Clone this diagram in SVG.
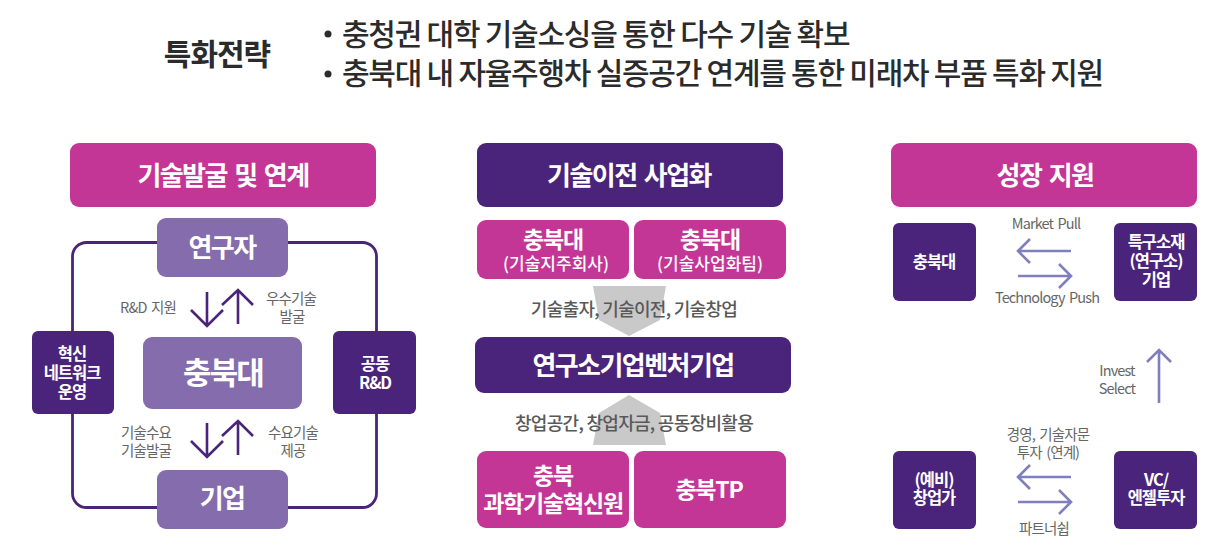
<svg xmlns="http://www.w3.org/2000/svg" width="1232" height="553" viewBox="0 0 1232 553">
<style>
text{font-family:"Noto Sans CJK KR","Noto Sans",sans-serif;text-anchor:middle}
.w{fill:#fff;font-weight:700}
.h{font-size:26px;letter-spacing:-1.56px;word-spacing:3px}
.s{font-size:16.5px;letter-spacing:-1px}
.m{font-size:23px;letter-spacing:-1.2px}
.g{fill:#666;font-size:14.5px;letter-spacing:-0.87px;word-spacing:2px}
.d{fill:#595959;font-size:18px;letter-spacing:-0.7px;font-weight:500}
.t{fill:#2b2b2b;font-size:30px;letter-spacing:-1.25px;font-weight:500;text-anchor:start}
.pk{fill:#c43696}
.dp{fill:#4a247a}
.lp{fill:#846cad}
.pa{fill:none;stroke:#4a247a;stroke-width:2.600}
.ba{fill:none;stroke:#7f7fc0;stroke-width:2.600}
.ga{fill:#c9c9c9}
</style>
<rect width="1232" height="553" fill="#fff"/>
<g id="title">
<text x="217" y="65" font-size="30" font-weight="700" fill="#2b2b2b" letter-spacing="-1">특화전략</text>
<circle cx="328" cy="34" r="3.500" fill="#2b2b2b"/>
<circle cx="328" cy="74" r="3.500" fill="#2b2b2b"/>
<text class="t" x="342" y="45">충청권 대학 기술소싱을 통한 다수 기술 확보</text>
<text class="t" x="342" y="84">충북대 내 자율주행차 실증공간 연계를 통한 미래차 부품 특화 지원</text>
</g>
<g id="connectors">
<rect class="pa" x="72.500" y="242.500" width="304" height="265" rx="14" style="stroke-width:2.800"/>
<path class="pa" d="M207 292V326M191 310L207 326L223 310M238 324V290M222 305L238 290L253 305"/>
<path class="pa" d="M207 423V457M191 441L207 457L223 441M238 455V421M222 436L238 421L253 436"/>
<polygon class="ga" points="593,286 666,286 660,320 629,336 599,320"/>
<polygon class="ga" points="629,395 660,413 666,445 593,445 599,413"/>
<path class="ba" d="M1071 251H1018M1030 239L1018 251L1030 263M1018 276H1071M1059 264L1071 276L1059 288"/>
<path class="ba" d="M1159 403V350M1147 362L1159 350L1171 362"/>
<path class="ba" d="M1071 477H1018M1030 465L1018 477L1030 489M1018 502H1071M1059 490L1071 502L1059 514"/>
</g>
<g id="h1"><rect class="pk" x="70" y="143" width="306" height="64" rx="9"/><text class="w h" x="223" y="185">기술발굴 및 연계</text></g>
<g id="n-researcher"><rect class="lp" x="157" y="218" width="131" height="59" rx="9"/><text class="w h" x="222" y="257">연구자</text></g>
<g id="n-cbnu"><rect class="lp" x="143" y="337" width="159" height="72" rx="9"/><text class="w" x="223" y="384" font-size="31" letter-spacing="-1.800">충북대</text></g>
<g id="n-company"><rect class="lp" x="157" y="470" width="131" height="59" rx="9"/><text class="w h" x="222" y="508">기업</text></g>
<g id="n-network"><rect class="dp" x="32" y="331" width="82" height="83" rx="6"/><text class="w s" x="72" y="360">혁신</text><text class="w s" x="72" y="379">네트워크</text><text class="w s" x="72" y="398">운영</text></g>
<g id="n-rd"><rect class="dp" x="333" y="331" width="83" height="83" rx="6"/><text class="w s" x="375" y="370">공동</text><text class="w s" x="375" y="389">R&amp;D</text></g>
<g id="left-labels">
<text class="g" x="148" y="313">R&amp;D 지원</text>
<text class="g" x="291" y="304">우수기술</text><text class="g" x="292" y="322">발굴</text>
<text class="g" x="146" y="438">기술수요</text><text class="g" x="146" y="456">기술발굴</text>
<text class="g" x="293" y="438">수요기술</text><text class="g" x="293" y="456">제공</text>
</g>
<g id="h2"><rect class="dp" x="477" y="143" width="306" height="64" rx="9"/><text class="w h" x="629" y="185">기술이전 사업화</text></g>
<g id="n-holding"><rect class="pk" x="477" y="220" width="152" height="59" rx="9"/><text class="w m" x="553" y="248">충북대</text><text class="w" x="556" y="270" font-size="17" style="font-weight:500">(기술지주회사)</text></g>
<g id="n-team"><rect class="pk" x="634" y="220" width="152" height="59" rx="9"/><text class="w m" x="710" y="248">충북대</text><text class="w" x="710" y="270" font-size="17" style="font-weight:500">(기술사업화팀)</text></g>
<g id="n-venture"><rect class="dp" x="475" y="337" width="316" height="56" rx="9"/><text class="w h" x="633" y="375">연구소기업벤처기업</text></g>
<g id="n-innovation"><rect class="pk" x="477" y="451" width="152" height="77" rx="9"/><text class="w m" x="553" y="484">충북</text><text class="w m" x="553" y="512">과학기술혁신원</text></g>
<g id="n-tp"><rect class="pk" x="634" y="451" width="152" height="77" rx="9"/><text class="w m" x="709" y="498">충북TP</text></g>
<g id="mid-labels">
<text class="d" x="634" y="316">기술출자, 기술이전, 기술창업</text>
<text class="d" x="634" y="430">창업공간, 창업자금, 공동장비활용</text>
</g>
<g id="h3"><rect class="pk" x="891" y="143" width="306" height="64" rx="9"/><text class="w h" x="1045" y="185">성장 지원</text></g>
<g id="n-cbnu2"><rect class="dp" x="893" y="223" width="83" height="78" rx="6"/><text class="w s" x="934" y="268">충북대</text></g>
<g id="n-special"><rect class="dp" x="1114" y="223" width="83" height="78" rx="6"/><text class="w s" x="1156" y="248">특구소재</text><text class="w s" x="1156" y="267">(연구소)</text><text class="w s" x="1156" y="286">기업</text></g>
<g id="n-founder"><rect class="dp" x="893" y="451" width="83" height="78" rx="6"/><text class="w s" x="934" y="486">(예비)</text><text class="w s" x="934" y="504">창업가</text></g>
<g id="n-vc"><rect class="dp" x="1114" y="451" width="83" height="78" rx="6"/><text class="w s" x="1156" y="486">VC/</text><text class="w s" x="1156" y="504">엔젤투자</text></g>
<g id="right-labels">
<text class="g" x="1046" y="229">Market Pull</text>
<text class="g" x="1047" y="303">Technology Push</text>
<text class="g" x="1117" y="376">Invest</text><text class="g" x="1117" y="394">Select</text>
<text class="g" x="1048" y="440">경영, 기술자문</text><text class="g" x="1048" y="458">투자 (연계)</text>
<text class="g" x="1044" y="534">파트너쉽</text>
</g>
</svg>
